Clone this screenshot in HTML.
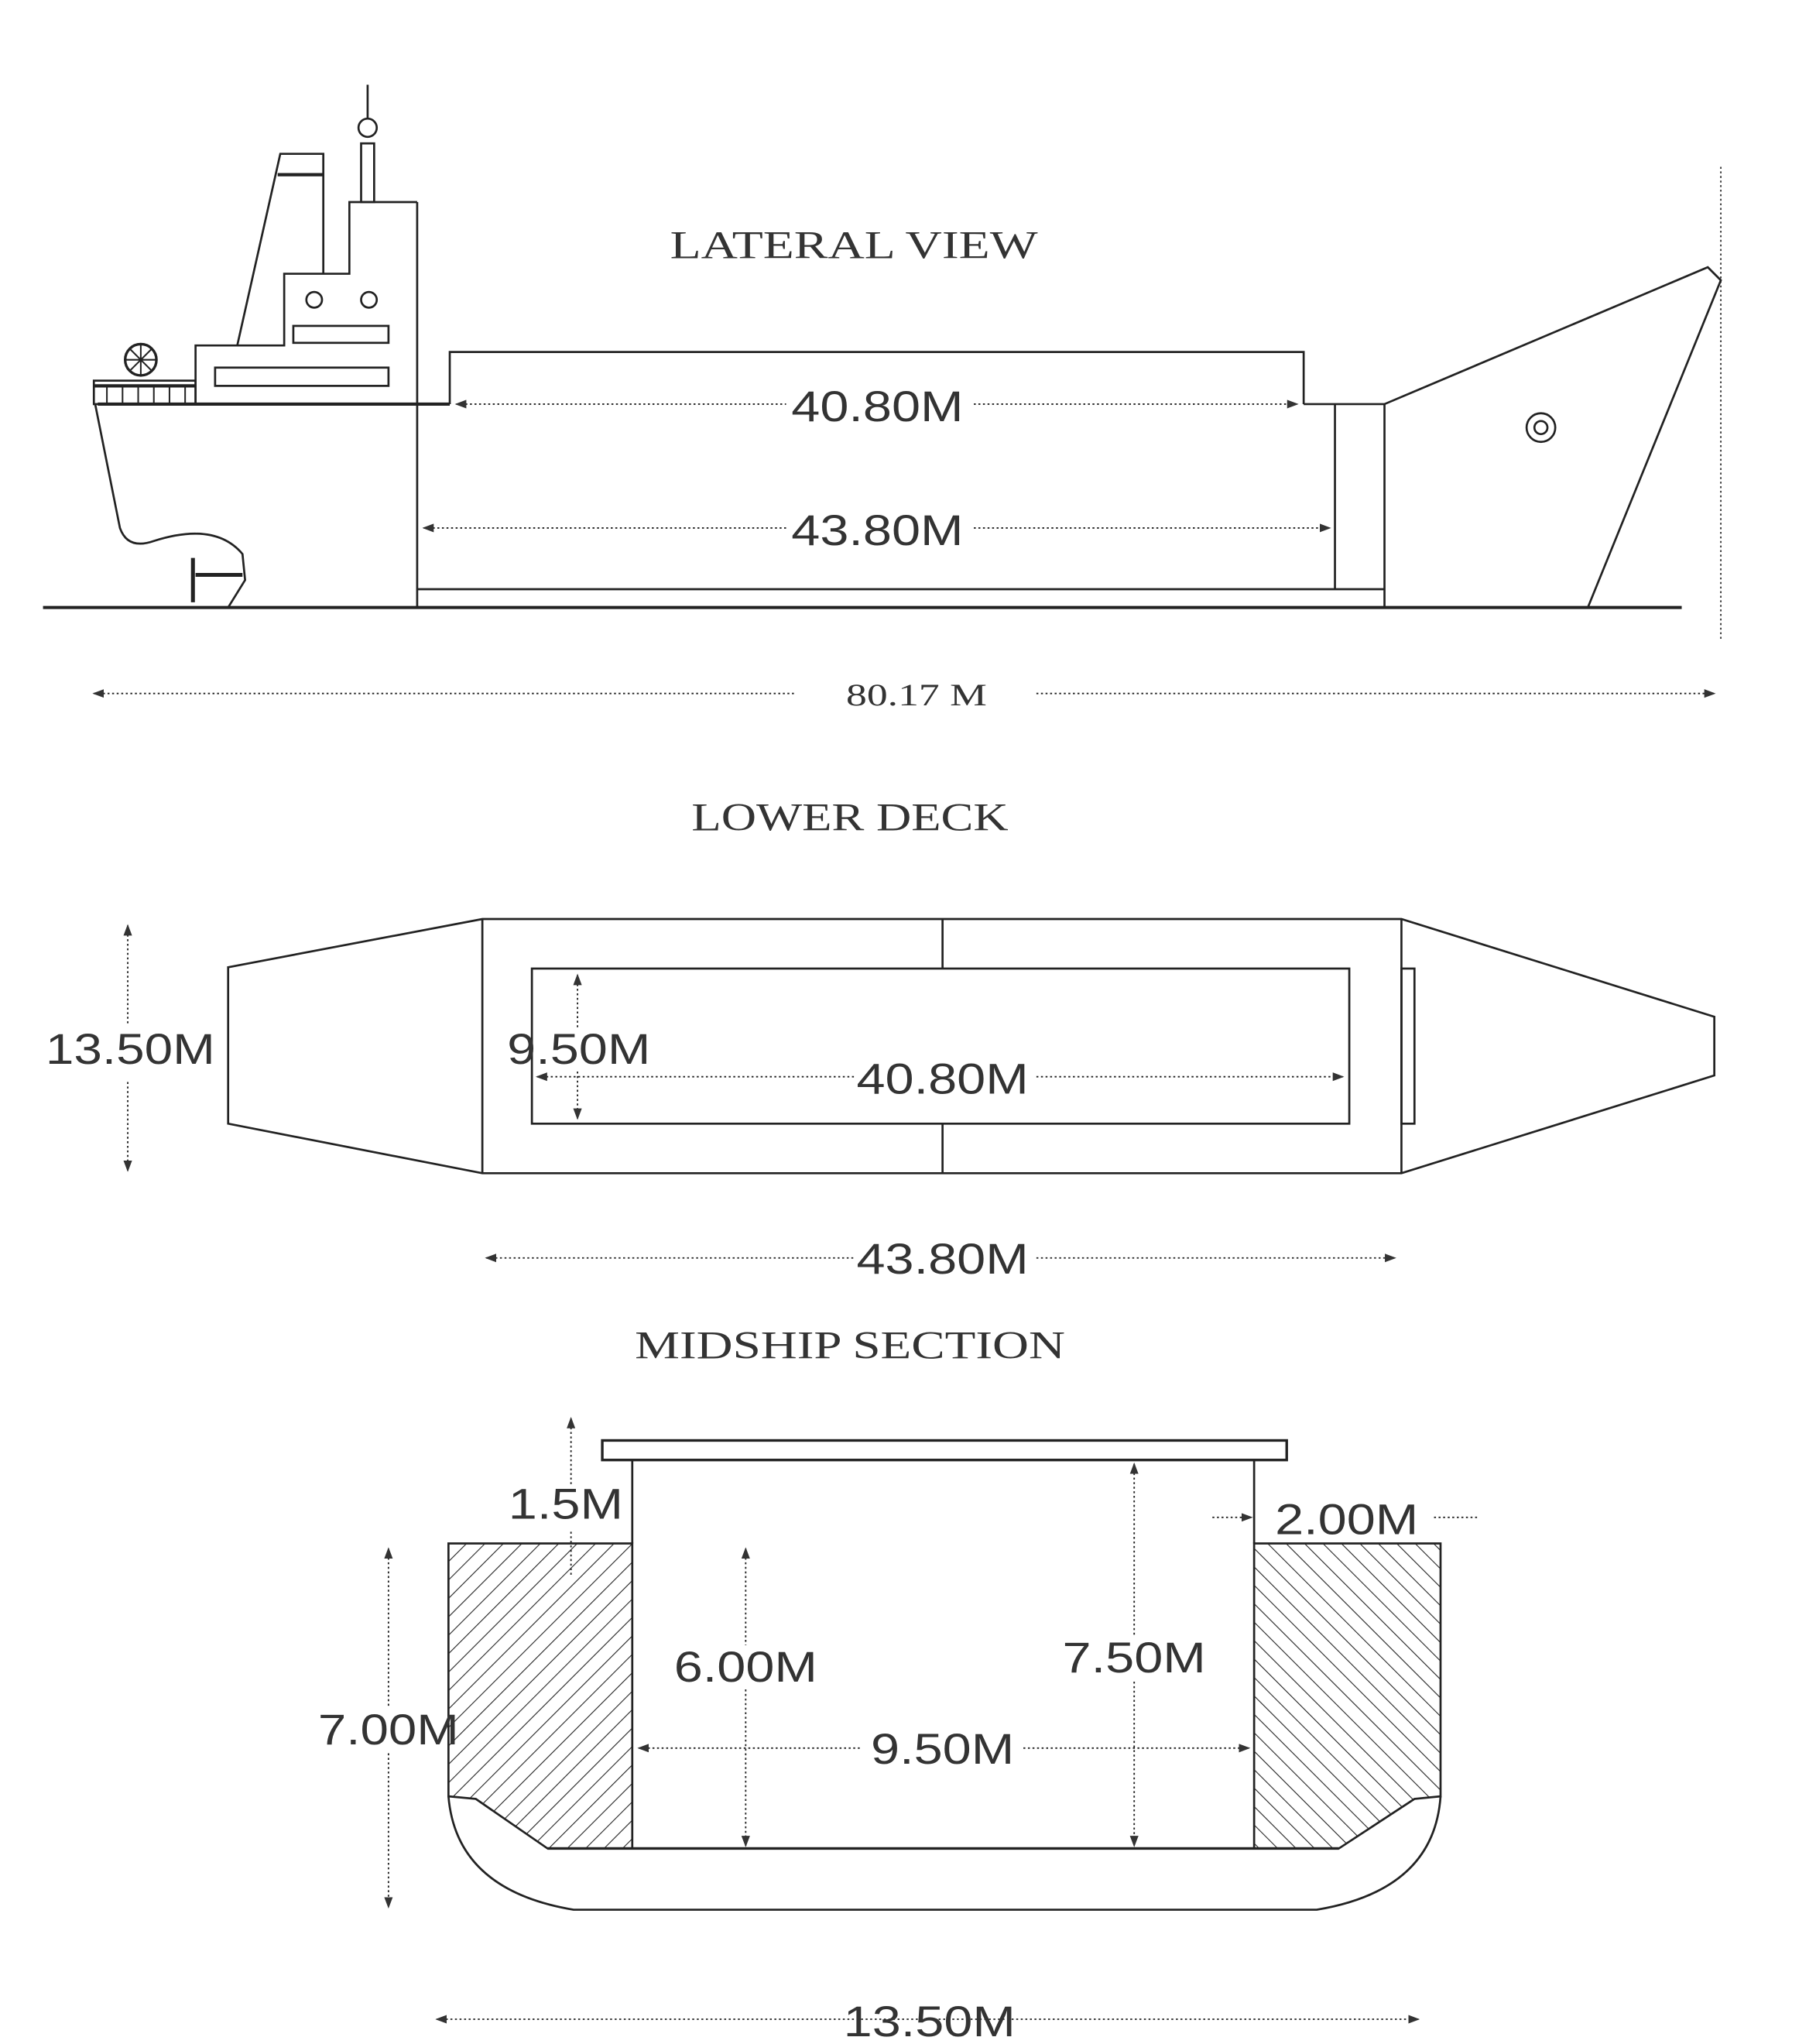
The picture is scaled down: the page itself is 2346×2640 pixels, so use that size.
<!DOCTYPE html>
<html><head><meta charset="utf-8"><style>html,body{margin:0;padding:0;background:#fff}svg{display:block}</style></head>
<body>
<svg width="2346" height="2640" viewBox="0 0 1393 1568" preserveAspectRatio="none" xmlns="http://www.w3.org/2000/svg">
<defs>
<pattern id="hl" width="10" height="10" patternUnits="userSpaceOnUse" patternTransform="rotate(45)"><line x1="0" y1="0" x2="0" y2="10" stroke="#222" stroke-width="1.3"/></pattern>
<pattern id="hr" width="10" height="10" patternUnits="userSpaceOnUse" patternTransform="rotate(-45)"><line x1="0" y1="0" x2="0" y2="10" stroke="#222" stroke-width="1.3"/></pattern>
<marker id="a" markerWidth="8" markerHeight="6" refX="7" refY="3" orient="auto-start-reverse"><path d="M0,0 L8,3 L0,6z" fill="#333"/></marker>
</defs>
<g fill="none" stroke="#222" stroke-width="1.6">
<line x1="33" y1="466" x2="1290" y2="466" stroke-width="2.4"/>
<line x1="1320" y1="128" x2="1320" y2="492" stroke-dasharray="1.5,2" stroke-width="1"/>
<polyline points="320,155 320,466 1062,466 1062,310 1000,310"/>
<line x1="320" y1="452" x2="1062" y2="452"/>
<line x1="1024" y1="310" x2="1024" y2="452"/>
<polyline points="345,310 345,270 1000,270 1000,310"/>
<line x1="75" y1="310" x2="345" y2="310" stroke-width="2.4"/>
<polyline points="1062,310 1310,205 1320,215 1218,466"/>
<circle cx="1182" cy="328" r="11"/><circle cx="1182" cy="328" r="5"/>
<path d="M73,310 L92,405 Q98,422 118,415 Q165,400 186,425 L188,445 L175,466"/>
<line x1="148" y1="428" x2="148" y2="462" stroke-width="3"/>
<line x1="150" y1="441" x2="186" y2="441" stroke-width="3"/>
<polyline points="150,310 150,265 218,265 218,210 268,210 268,155 320,155"/>
<polyline points="182,265 215,118 248,118 248,210"/>
<line x1="213" y1="134" x2="248" y2="134" stroke-width="2.5"/>
<rect x="277" y="110" width="10" height="45"/>
<circle cx="282" cy="98" r="7"/>
<line x1="282" y1="65" x2="282" y2="91"/>
<circle cx="241" cy="230" r="6"/><circle cx="283" cy="230" r="6"/>
<rect x="225" y="250" width="73" height="13"/>
<rect x="165" y="282" width="133" height="14"/>
<rect x="72" y="292" width="78" height="18"/>
<line x1="72" y1="296" x2="150" y2="296" stroke-width="2.5"/>
<g stroke-width="1.2"><line x1="82" y1="296" x2="82" y2="310"/><line x1="94" y1="296" x2="94" y2="310"/><line x1="106" y1="296" x2="106" y2="310"/><line x1="118" y1="296" x2="118" y2="310"/><line x1="130" y1="296" x2="130" y2="310"/><line x1="142" y1="296" x2="142" y2="310"/></g>
<circle cx="108" cy="276" r="12" stroke-width="2"/>
<g stroke-width="1.2"><line x1="96" y1="276" x2="120" y2="276"/><line x1="108" y1="264" x2="108" y2="288"/><line x1="100" y1="268" x2="116" y2="284"/><line x1="116" y1="268" x2="100" y2="284"/></g>
<g stroke-dasharray="1.5,2" stroke-width="1.1">
<line x1="350" y1="310" x2="603" y2="310" marker-start="url(#a)"/><line x1="747" y1="310" x2="995" y2="310" marker-end="url(#a)"/>
<line x1="325" y1="405" x2="603" y2="405" marker-start="url(#a)"/><line x1="747" y1="405" x2="1020" y2="405" marker-end="url(#a)"/>
<line x1="72" y1="532" x2="610" y2="532" marker-start="url(#a)"/><line x1="795" y1="532" x2="1315" y2="532" marker-end="url(#a)"/>
</g>
<polygon points="175,742 370,705 1075,705 1315,780 1315,825 1075,900 370,900 175,862"/>
<line x1="370" y1="705" x2="370" y2="900"/><line x1="1075" y1="705" x2="1075" y2="900"/>
<line x1="723" y1="705" x2="723" y2="743"/><line x1="723" y1="862" x2="723" y2="900"/>
<rect x="408" y="743" width="627" height="119"/>
<rect x="1075" y="743" width="10" height="119"/>
<g stroke-dasharray="1.5,2" stroke-width="1.1">
<line x1="98" y1="710" x2="98" y2="785" marker-start="url(#a)"/><line x1="98" y1="830" x2="98" y2="898" marker-end="url(#a)"/>
<line x1="443" y1="748" x2="443" y2="790" marker-start="url(#a)"/><line x1="443" y1="822" x2="443" y2="858" marker-end="url(#a)"/>
<line x1="412" y1="826" x2="655" y2="826" marker-start="url(#a)"/><line x1="795" y1="826" x2="1030" y2="826" marker-end="url(#a)"/>
<line x1="373" y1="965" x2="655" y2="965" marker-start="url(#a)"/><line x1="795" y1="965" x2="1070" y2="965" marker-end="url(#a)"/>
</g>
<polygon points="344,1184 485,1184 485,1418 420,1418 365,1380 344,1378" fill="url(#hl)"/>
<polygon points="962,1184 1105,1184 1105,1378 1085,1380 1027,1418 962,1418" fill="url(#hr)"/>
<rect x="462" y="1105" width="525" height="15" stroke-width="2"/>
<polyline points="485,1184 485,1120"/><polyline points="962,1184 962,1120"/>
<line x1="420" y1="1418" x2="1027" y2="1418" stroke-width="2"/>
<path d="M344,1378 Q350,1450 440,1465 L1010,1465 Q1100,1450 1105,1378"/>
<g stroke-dasharray="1.5,2" stroke-width="1.1">
<line x1="438" y1="1088" x2="438" y2="1140" marker-start="url(#a)"/><line x1="438" y1="1175" x2="438" y2="1210"/>
<line x1="930" y1="1164" x2="960" y2="1164" marker-end="url(#a)"/><line x1="1100" y1="1164" x2="1135" y2="1164"/>
<line x1="298" y1="1188" x2="298" y2="1310" marker-start="url(#a)"/><line x1="298" y1="1345" x2="298" y2="1463" marker-end="url(#a)"/>
<line x1="572" y1="1188" x2="572" y2="1262" marker-start="url(#a)"/><line x1="572" y1="1296" x2="572" y2="1416" marker-end="url(#a)"/>
<line x1="870" y1="1123" x2="870" y2="1255" marker-start="url(#a)"/><line x1="870" y1="1290" x2="870" y2="1416" marker-end="url(#a)"/>
<line x1="490" y1="1341" x2="660" y2="1341" marker-start="url(#a)"/><line x1="785" y1="1341" x2="958" y2="1341" marker-end="url(#a)"/>
<line x1="335" y1="1549" x2="1088" y2="1549" marker-start="url(#a)" marker-end="url(#a)"/>
</g>
</g>
<g fill="#333" font-family="Liberation Serif, serif" font-size="30" text-anchor="middle">
<text x="655" y="198" textLength="282" lengthAdjust="spacingAndGlyphs">LATERAL VIEW</text>
<text x="652" y="637" textLength="243" lengthAdjust="spacingAndGlyphs">LOWER DECK</text>
<text x="652" y="1042" textLength="330" lengthAdjust="spacingAndGlyphs">MIDSHIP SECTION</text>
<text x="703" y="541" font-size="24" textLength="108" lengthAdjust="spacingAndGlyphs">80.17 M</text>
</g>
<g fill="#333" font-family="Liberation Sans, sans-serif" font-size="33" text-anchor="middle">
<text x="673" y="323" textLength="132" lengthAdjust="spacingAndGlyphs">40.80M</text>
<text x="673" y="418" textLength="132" lengthAdjust="spacingAndGlyphs">43.80M</text>
<text x="100" y="816" textLength="130" lengthAdjust="spacingAndGlyphs">13.50M</text>
<text x="444" y="816" textLength="110" lengthAdjust="spacingAndGlyphs">9.50M</text>
<text x="723" y="839" textLength="132" lengthAdjust="spacingAndGlyphs">40.80M</text>
<text x="723" y="977" textLength="132" lengthAdjust="spacingAndGlyphs">43.80M</text>
<text x="434" y="1165" textLength="88" lengthAdjust="spacingAndGlyphs">1.5M</text>
<text x="1033" y="1177" textLength="110" lengthAdjust="spacingAndGlyphs">2.00M</text>
<text x="298" y="1338" textLength="108" lengthAdjust="spacingAndGlyphs">7.00M</text>
<text x="572" y="1290" textLength="110" lengthAdjust="spacingAndGlyphs">6.00M</text>
<text x="870" y="1283" textLength="110" lengthAdjust="spacingAndGlyphs">7.50M</text>
<text x="723" y="1353" textLength="110" lengthAdjust="spacingAndGlyphs">9.50M</text>
<text x="713" y="1562" textLength="132" lengthAdjust="spacingAndGlyphs">13.50M</text>
</g>
</svg>
</body></html>
